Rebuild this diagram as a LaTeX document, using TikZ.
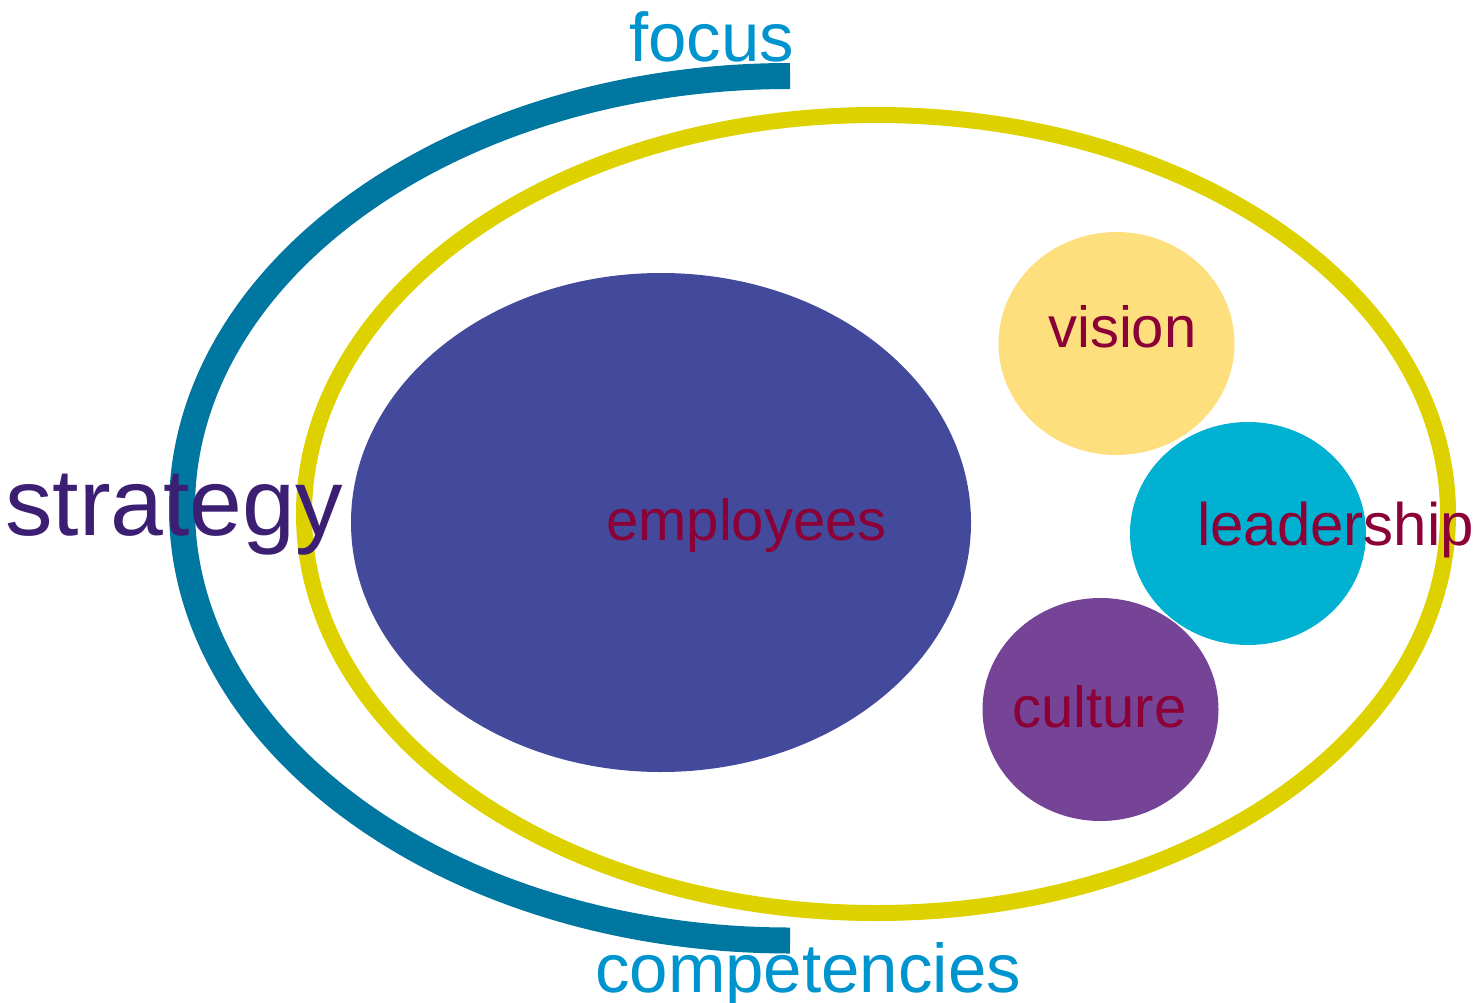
\documentclass[tikz,border=0pt]{standalone}
\usepackage{fontspec}
\setmainfont{Liberation Sans}
\usepackage{tikz}

\definecolor{arcblue}{RGB}{0,119,160}
\definecolor{skyblue}{RGB}{0,148,206}
\definecolor{deeppurple}{RGB}{60,30,114}
\definecolor{ringyellow}{RGB}{221,210,0}
\definecolor{indigo}{RGB}{67,74,156}
\definecolor{sand}{RGB}{253,223,125}
\definecolor{cyan}{RGB}{0,177,210}
\definecolor{plum}{RGB}{117,68,151}
\definecolor{wine}{RGB}{139,0,54}

\tikzset{
  label/.style={anchor=base west, inner sep=0pt},
  big/.style={font=\fontsize{95}{95}\selectfont},
  mid/.style={font=\fontsize{69}{69}\selectfont},
  small/.style={font=\fontsize{58}{58}\selectfont, text=wine}
}

\begin{document}
\begin{tikzpicture}[x=1pt,y=-1pt]
\useasboundingbox (0,0) rectangle (1475,1003);

% Outer arc
\draw[arcblue, line width=26] (790,76) arc[start angle=270, end angle=90, x radius=608, y radius=432.25];

% Ring
\draw[ringyellow, line width=16] (876,514) ellipse [x radius=572, y radius=399];

% Core
\fill[indigo] (661,522.5) ellipse [x radius=310, y radius=249.5];

% Bubbles
\foreach \cx/\cy/\col in {1116.5/343.5/sand, 1248/533.5/cyan, 1100.5/709.5/plum} {
    \fill[\col] (\cx,\cy) ellipse [x radius=118, y radius=111.5];
}

% Labels
\node[label, mid, text=skyblue] (focus) at (629,62) {focus};
\node[label, mid, text=skyblue] (competencies) at (595,992) {competencies};
\node[label, big, text=deeppurple] (strategy) at (5,535) {strategy};
\node[label, small] (employees) at (606,540) {employees};
\node[label, small] (vision) at (1048,347) {vision};
\node[label, small, font=\fontsize{60}{60}\selectfont] (leadership) at (1197,545) {leadership};
\node[label, small] (culture) at (1012,727) {culture};
\end{tikzpicture}
\end{document}
